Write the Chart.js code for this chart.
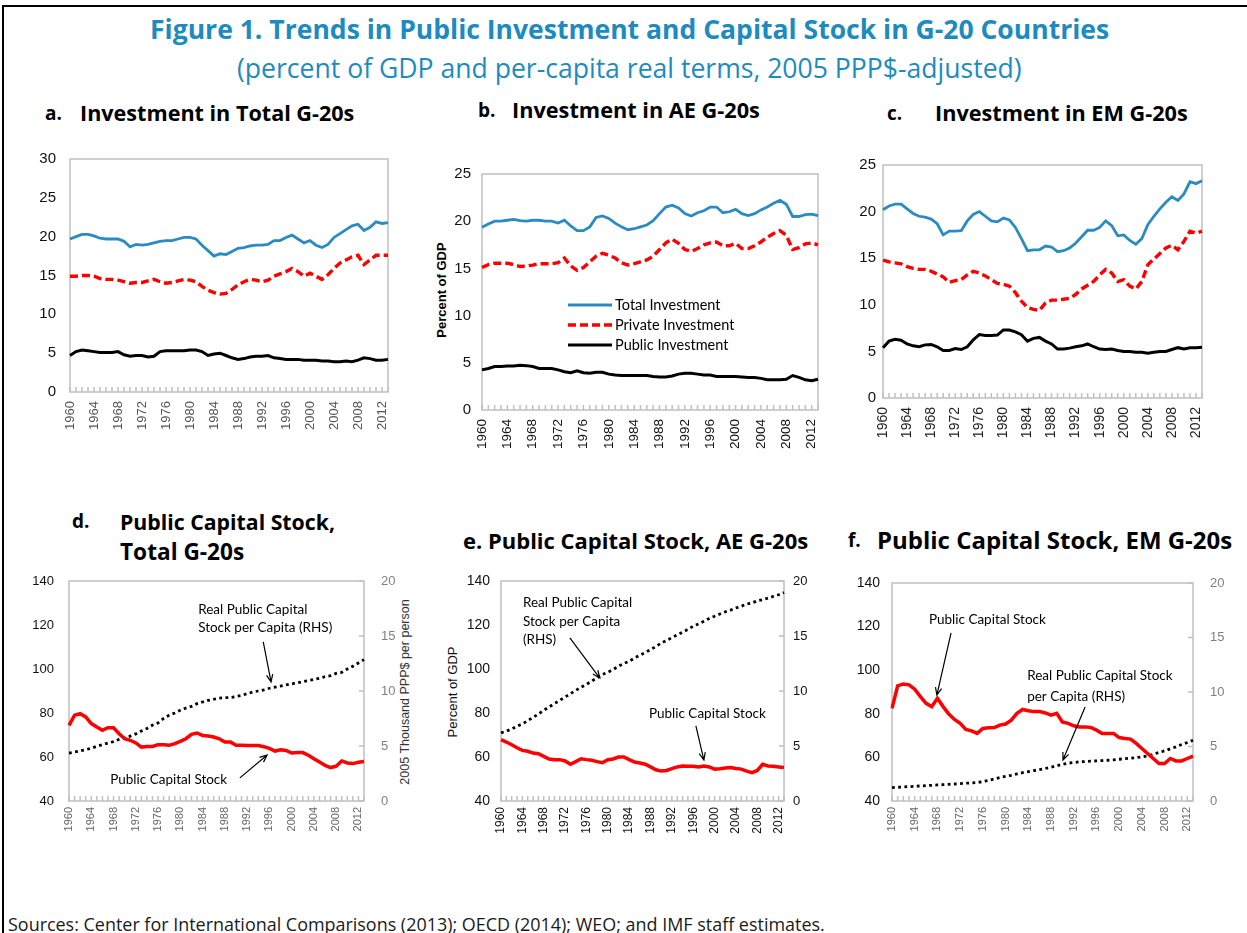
<!DOCTYPE html>
<html>
<head>
<meta charset="utf-8">
<title>Figure 1. Public Investment and Capital Stock in G-20 Countries</title>
<script src="https://cdn.jsdelivr.net/npm/chart.js@4.4.1/dist/chart.umd.min.js"></script>
<style>
  body { margin: 0; background: #fff; }
  #page { position: relative; width: 1247px; height: 933px; overflow: hidden; background: #fff; }
  #frame { position: absolute; left: 2px; top: 5px; width: 1300px; height: 1000px; border-left: 2px solid #000; border-top: 2px solid #000; }
  .txt { position: absolute; white-space: nowrap; line-height: 1; }
  .axis-title { position: absolute; white-space: nowrap; line-height: 1; transform: translate(-50%, -50%) rotate(-90deg); }
  canvas { position: absolute; }
</style>
</head>
<body>
<div id="page"><div id="frame"></div></div>
<script>
// DATA
const years = ["1960","1961","1962","1963","1964","1965","1966","1967","1968","1969",
  "1970","1971","1972","1973","1974","1975","1976","1977","1978","1979",
  "1980","1981","1982","1983","1984","1985","1986","1987","1988","1989",
  "1990","1991","1992","1993","1994","1995","1996","1997","1998","1999",
  "2000","2001","2002","2003","2004","2005","2006","2007","2008","2009",
  "2010","2011","2012","2013"];

// a. total G-20 (percent of GDP)
const totalA = [19.7,20.0,20.3,20.3,20.1,19.8,19.7,19.7,19.7,19.4, 18.7,19.0,18.9,19.0,19.2,19.4,19.5,19.5,19.7,19.9,
  19.9,19.7,18.9,18.2,17.5,17.8,17.7,18.1,18.5,18.6, 18.8,18.9,18.9,19.0,19.5,19.5,19.9,20.2,19.7,19.2,
  19.5,18.9,18.6,19.0,19.9,20.4,20.9,21.4,21.6,20.8, 21.2,21.9,21.7,21.8];
const privateA = [14.9,14.9,15.0,15.0,14.9,14.6,14.5,14.5,14.4,14.2, 14.0,14.1,14.1,14.3,14.5,14.2,14.0,14.1,14.3,14.5,
  14.4,14.2,13.6,13.1,12.8,12.6,12.7,13.2,13.8,14.2, 14.5,14.4,14.2,14.4,14.9,15.2,15.5,15.9,15.5,14.9,
  15.3,14.9,14.5,15.1,15.9,16.6,17.0,17.4,17.6,16.4, 17.0,17.6,17.6,17.6];
const publicA = [4.7,5.2,5.4,5.3,5.2,5.1,5.1,5.1,5.2,4.8, 4.6,4.7,4.7,4.5,4.6,5.2,5.3,5.3,5.3,5.3,
  5.4,5.4,5.2,4.7,4.9,5.0,4.7,4.4,4.2,4.3, 4.5,4.6,4.6,4.7,4.4,4.3,4.2,4.2,4.2,4.1,
  4.1,4.1,4.0,4.0,3.9,3.9,4.0,3.9,4.1,4.4, 4.3,4.1,4.1,4.2];

// b. AE G-20
const totalB = [19.35,19.7,20.0,20.0,20.1,20.2,20.05,20.0,20.1,20.1, 20.0,20.0,19.8,20.1,19.5,19.0,19.0,19.4,20.4,20.55,
  20.3,19.8,19.4,19.1,19.2,19.4,19.6,20.05,20.8,21.5, 21.7,21.4,20.8,20.55,20.9,21.1,21.5,21.5,20.9,21.0,
  21.25,20.8,20.6,20.8,21.2,21.5,21.9,22.2,21.8,20.5, 20.5,20.7,20.75,20.6];
const privateB = [15.1,15.4,15.55,15.55,15.55,15.4,15.2,15.25,15.35,15.5, 15.5,15.5,15.6,16.1,15.25,14.8,15.1,15.7,16.3,16.6,
  16.4,16.1,15.6,15.35,15.5,15.7,15.9,16.3,17.0,17.7, 18.1,17.65,17.0,16.8,17.1,17.5,17.7,17.8,17.4,17.4,
  17.65,17.1,17.1,17.4,17.8,18.3,18.7,19.0,18.5,17.0, 17.2,17.6,17.7,17.5];
const publicB = [4.25,4.4,4.6,4.6,4.65,4.65,4.75,4.7,4.6,4.4, 4.4,4.4,4.25,4.05,3.95,4.15,3.95,3.9,4.0,4.0,
  3.8,3.7,3.65,3.65,3.65,3.65,3.65,3.55,3.5,3.5, 3.6,3.8,3.9,3.9,3.8,3.7,3.7,3.55,3.55,3.55,
  3.55,3.5,3.45,3.45,3.35,3.2,3.2,3.2,3.25,3.65, 3.45,3.2,3.1,3.25];

// c. EM G-20
const totalC = [20.2,20.6,20.8,20.8,20.3,19.8,19.5,19.4,19.2,18.7, 17.5,17.9,17.9,17.95,19.0,19.7,20.0,19.5,19.0,18.9,
  19.3,19.1,18.3,17.1,15.8,15.9,15.9,16.3,16.2,15.7, 15.8,16.1,16.6,17.3,18.0,18.0,18.3,19.0,18.5,17.4,
  17.5,16.9,16.5,17.1,18.6,19.5,20.3,21.0,21.6,21.2, 21.9,23.2,23.0,23.3];
const privateC = [14.8,14.6,14.5,14.4,14.1,13.9,13.8,13.8,13.6,13.3, 13.0,12.4,12.6,12.7,13.2,13.6,13.4,13.1,12.7,12.3,
  12.2,12.0,11.3,10.4,9.7,9.5,9.4,10.2,10.5,10.5, 10.6,10.7,11.1,11.7,12.1,12.5,13.2,13.8,13.4,12.5,
  12.7,12.0,11.7,12.5,14.3,14.9,15.5,16.1,16.4,15.9, 16.8,17.9,17.7,17.9];
const publicC = [5.4,6.1,6.3,6.2,5.8,5.6,5.5,5.7,5.75,5.5, 5.1,5.1,5.3,5.2,5.5,6.25,6.8,6.7,6.7,6.75,
  7.3,7.3,7.1,6.8,6.1,6.4,6.5,6.1,5.8,5.25, 5.25,5.35,5.5,5.6,5.8,5.5,5.25,5.2,5.25,5.1,
  5.0,5.0,4.9,4.9,4.8,4.9,5.0,5.0,5.2,5.4, 5.25,5.4,5.4,5.45];

// d-f. public capital stock (percent of GDP) and per capita (thousand 2005 PPP$, RHS)
const stockD = [74.4,79.0,79.7,78.2,75.2,73.6,72.1,73.3,73.3,70.6, 68.3,67.6,66.4,64.5,64.8,64.8,65.6,65.6,65.3,66.1,
  67.1,68.3,70.3,70.9,69.8,69.5,69.1,68.3,66.8,66.8, 65.3,65.3,65.2,65.2,65.2,64.7,63.9,62.7,63.3,63.0,
  61.8,62.0,62.0,60.8,59.2,57.7,56.2,55.2,55.8,58.2, 57.3,57.0,57.6,58.0];
const perCapD = [4.36,4.45,4.55,4.67,4.8,4.97,5.12,5.27,5.4,5.6, 5.75,5.9,6.1,6.36,6.6,6.9,7.1,7.5,7.8,8.0,
  8.25,8.45,8.6,8.85,9.0,9.15,9.25,9.35,9.4,9.4, 9.5,9.6,9.75,9.9,10.0,10.1,10.25,10.35,10.45,10.55,
  10.65,10.75,10.85,10.95,11.05,11.15,11.3,11.4,11.6,11.7, 12.0,12.25,12.55,12.85];
const stockE = [67.9,66.8,65.6,64.2,63.0,62.6,61.8,61.5,60.3,59.1, 58.8,58.8,58.2,56.7,57.9,59.2,58.8,58.5,57.9,57.4,
  58.8,59.1,60.0,60.0,58.8,57.7,57.3,56.7,55.5,54.2, 53.6,53.9,54.7,55.5,55.9,55.8,55.8,55.5,55.9,55.5,
  54.5,54.7,55.0,55.2,54.8,54.5,53.6,52.9,53.9,56.7, 55.9,55.8,55.5,55.2];
const perCapE = [6.2,6.35,6.55,6.8,7.0,7.3,7.6,7.9,8.25,8.55, 8.85,9.15,9.45,9.75,10.05,10.35,10.6,10.9,11.2,11.5,
  11.7,11.95,12.25,12.5,12.7,13.0,13.25,13.5,13.75,14.05, 14.35,14.6,14.85,15.1,15.35,15.6,15.9,16.1,16.35,16.6,
  16.8,17.0,17.2,17.35,17.55,17.7,17.9,18.0,18.2,18.3, 18.45,18.6,18.75,18.95];
const stockF = [82.5,92.8,93.7,93.3,91.3,87.9,84.8,83.3,87.1,83.3, 79.9,77.4,75.6,72.8,72.2,71.0,73.3,73.6,73.7,74.8,
  75.3,77.1,80.2,82.0,81.4,81.0,81.0,80.4,79.4,80.2, 76.3,75.6,74.5,74.0,74.0,73.7,72.5,71.0,71.0,71.0,
  69.1,68.7,68.4,66.4,64.1,61.8,59.5,57.2,57.2,59.5, 58.4,58.4,59.5,60.6];
const perCapF = [1.23,1.26,1.29,1.32,1.35,1.38,1.41,1.44,1.47,1.5, 1.53,1.56,1.6,1.63,1.66,1.7,1.78,1.9,2.02,2.15,
  2.27,2.36,2.48,2.6,2.7,2.79,2.88,2.98,3.1,3.22, 3.37,3.47,3.53,3.59,3.62,3.65,3.68,3.71,3.74,3.78,
  3.83,3.88,3.93,3.98,4.05,4.14,4.29,4.45,4.6,4.79, 4.97,5.18,5.37,5.58];

const BLUE = "#2a8bc3";
const RED = "#ff0000";
const page = document.querySelector("#page");

// TEXT (page headings, panel titles, source line)
function placeText(item) {
    const el = document.createElement("div");
    el.className = "txt";
    el.textContent = item.text;
    el.style.fontFamily = item.family || '"Open Sans"';
    el.style.fontWeight = item.weight || 400;
    el.style.fontSize = item.size + "px";
    el.style.color = item.color || "#000";
    page.appendChild(el);
    if (item.w) el.style.fontSize = (item.size * item.w / el.offsetWidth) + "px";
    el.style.left = item.x + "px";
    el.style.top = (item.cy - el.offsetHeight / 2) + "px";
}

const texts = [
    { text: "Figure 1. Trends in Public Investment and Capital Stock in G-20 Countries", x: 150, cy: 29, w: 960, size: 25, weight: 700, color: "#1c8bbf" },
    { text: "(percent of GDP and per-capita real terms, 2005 PPP$-adjusted)", x: 237, cy: 68, w: 785, size: 24, color: "#1c8bbf" },
    { text: "a.", x: 45, cy: 113, size: 19, weight: 700 },
    { text: "Investment in Total G-20s", x: 80, cy: 113, w: 275, size: 19, weight: 700 },
    { text: "b.", x: 478, cy: 110, size: 19, weight: 700 },
    { text: "Investment in AE G-20s", x: 512, cy: 110, w: 248, size: 19, weight: 700 },
    { text: "c.", x: 887, cy: 113, size: 19, weight: 700 },
    { text: "Investment in EM G-20s", x: 935, cy: 113, w: 253, size: 19, weight: 700 },
    { text: "d.", x: 72, cy: 521, size: 19, weight: 700 },
    { text: "Public Capital Stock,", x: 120, cy: 521, w: 215, size: 19, weight: 700 },
    { text: "Total G-20s", x: 120, cy: 552, w: 124, size: 19, weight: 700 },
    { text: "e. Public Capital Stock, AE G-20s", x: 463, cy: 540, w: 345, size: 19, weight: 700 },
    { text: "f.", x: 848, cy: 540, size: 19, weight: 700 },
    { text: "Public Capital Stock, EM G-20s", x: 877, cy: 540, w: 356, size: 19, weight: 700 },
    { text: "Sources: Center for International Comparisons (2013); OECD (2014); WEO; and IMF staff estimates.", x: 8, cy: 925, w: 818, size: 16, color: "#1a1a1a" }
];
texts.forEach(placeText);

// rotated axis titles
function axisTitle(text, cx, cy, font, color) {
    const el = document.createElement("div");
    el.className = "axis-title";
    el.textContent = text;
    el.style.font = font;
    el.style.color = color;
    el.style.left = cx + "px";
    el.style.top = cy + "px";
    page.appendChild(el);
}
axisTitle("Percent of GDP", 441, 290, "700 13px 'Liberation Sans'", "#000");
axisTitle("Percent of GDP", 452, 692, "400 13px 'Liberation Sans'", "#111");
axisTitle("2005 Thousand PPP$ per person", 405, 692, "400 12.5px 'Liberation Sans'", "#333");

// PLUGINS
// plot frame and small inward tick marks
const framePlugin = {
    id: "frame",
    beforeDatasetsDraw(chart) {
        const a = chart.chartArea;
        const ctx = chart.ctx;
        ctx.save();
        ctx.strokeStyle = "#c0c0c0";
        ctx.lineWidth = 1.5;
        ctx.strokeRect(a.left, a.top, a.right - a.left, a.bottom - a.top);
        ctx.beginPath();
        const x = chart.scales.x;
        for (let i = 0; i < years.length; i++) {
            const px = x.getPixelForValue(i);
            ctx.moveTo(px, a.bottom);
            ctx.lineTo(px, a.bottom - 5);
        }
        const y2 = chart.scales.y2;
        if (y2) {
            y2.ticks.forEach(t => {
                const py = y2.getPixelForValue(t.value);
                ctx.moveTo(a.right, py);
                ctx.lineTo(a.right - 5, py);
            });
        }
        ctx.stroke();
        ctx.restore();
    }
};

// legend drawn inside the plot (panel b)
const innerLegend = {
    id: "innerLegend",
    afterDraw(chart, args, opts) {
        if (!opts || !opts.show) return;
        const a = chart.chartArea;
        const ctx = chart.ctx;
        ctx.save();
        ctx.font = "14.5px Lato";
        ctx.textBaseline = "middle";
        ctx.fillStyle = "#000";
        chart.data.datasets.forEach((ds, i) => {
            const y = a.top + opts.top + i * opts.gap;
            const x = a.left + opts.left;
            ctx.strokeStyle = ds.borderColor;
            ctx.lineWidth = ds.borderWidth;
            ctx.setLineDash(ds.borderDash || []);
            ctx.beginPath();
            ctx.moveTo(x, y);
            ctx.lineTo(x + 44, y);
            ctx.stroke();
            ctx.fillText(ds.label, x + 47, y);
        });
        ctx.restore();
    }
};

// text labels and arrows placed in data coordinates
const notesPlugin = {
    id: "notes",
    afterDraw(chart, args, opts) {
        if (!opts || !opts.texts) return;
        const x = chart.scales.x;
        const y = chart.scales.y;
        const ctx = chart.ctx;
        ctx.save();
        ctx.font = (opts.size || 13.5) + "px Lato";
        ctx.fillStyle = "#000";
        ctx.textBaseline = "middle";
        opts.texts.forEach(t => {
            ctx.fillText(t.label, x.getPixelForValue(t.x), y.getPixelForValue(t.y));
        });
        ctx.strokeStyle = "#000";
        ctx.lineWidth = 1.2;
        opts.arrows.forEach(ar => {
            const x1 = x.getPixelForValue(ar.x1), y1 = y.getPixelForValue(ar.y1);
            const x2 = x.getPixelForValue(ar.x2), y2 = y.getPixelForValue(ar.y2);
            const ang = Math.atan2(y2 - y1, x2 - x1);
            ctx.beginPath();
            ctx.moveTo(x1, y1);
            ctx.lineTo(x2, y2);
            ctx.moveTo(x2 - 8 * Math.cos(ang - 0.4), y2 - 8 * Math.sin(ang - 0.4));
            ctx.lineTo(x2, y2);
            ctx.lineTo(x2 - 8 * Math.cos(ang + 0.4), y2 - 8 * Math.sin(ang + 0.4));
            ctx.stroke();
        });
        ctx.restore();
    }
};

// DATASET STYLES
function totalSet(data) {
    return { label: "Total Investment", data: data, borderColor: BLUE, borderWidth: 2.8, pointRadius: 0, tension: 0 };
}
function privateSet(data) {
    return { label: "Private Investment", data: data, borderColor: RED, borderWidth: 3.4, borderDash: [8, 4], pointRadius: 0, tension: 0 };
}
function publicSet(data) {
    return { label: "Public Investment", data: data, borderColor: "#000", borderWidth: 3, pointRadius: 0, tension: 0 };
}
function stockSet(data) {
    return { label: "Public Capital Stock", data: data, borderColor: RED, borderWidth: 3.5, pointRadius: 0, tension: 0, yAxisID: "y" };
}
function perCapSet(data) {
    return { label: "Real Public Capital Stock per Capita (RHS)", data: data, borderColor: "#000", borderWidth: 2.8, borderDash: [2.8, 3.4], pointRadius: 0, tension: 0, yAxisID: "y2" };
}

// PANEL FACTORY
function addPanel(p) {
    const [l, t, r, b] = p.plot;
    // top room must cover the tick label half-height plus tick padding, else Chart.js shrinks the plot
    const T = Math.ceil(Math.max(p.ySize * 0.6 + p.yPad, p.y2 ? 13 * 0.6 + p.y2Pad : 0, 16)) + 2;
    const B = 66;
    const canvas = document.createElement("canvas");
    canvas.width = p.L + (r - l) + p.R;
    canvas.height = T + (b - t) + B;
    canvas.style.left = (l - p.L) + "px";
    canvas.style.top = (t - T) + "px";
    page.appendChild(canvas);

    const scales = {
        x: {
            grid: { display: false, drawTicks: false },
            border: { display: false },
            ticks: {
                autoSkip: false, minRotation: 90, maxRotation: 90, padding: p.xPad,
                color: p.xColor, font: { family: "Liberation Sans", size: p.xSize },
                callback: (v, i) => (i % 4 === 0 ? years[i] : "")
            },
            afterFit: s => { s.height = B; }
        },
        y: {
            position: "left", min: p.yRange[0], max: p.yRange[1],
            grid: { display: false, drawTicks: false },
            border: { display: false },
            ticks: { stepSize: p.yRange[2], padding: p.yPad, color: "#111", font: { family: "Liberation Sans", size: p.ySize } },
            afterFit: s => { s.width = p.L; }
        }
    };
    if (p.y2) {
        scales.y2 = {
            position: "right", min: 0, max: 20,
            grid: { display: false, drawTicks: false },
            border: { display: false },
            ticks: { stepSize: 5, padding: p.y2Pad, color: p.y2Color, font: { family: "Liberation Sans", size: 13 } },
            afterFit: s => { s.width = p.R; }
        };
    }

    new Chart(canvas, {
        type: "line",
        data: { labels: years, datasets: p.datasets },
        options: {
            responsive: false,
            animation: false,
            events: [],
            layout: { padding: { top: T, right: p.y2 ? 0 : p.R, left: 0, bottom: 0 } },
            scales: scales,
            plugins: {
                legend: { display: false },
                tooltip: { enabled: false },
                innerLegend: p.legend || {},
                notes: p.notes || {}
            }
        },
        plugins: [framePlugin, innerLegend, notesPlugin]
    });
}

// PANELS
addPanel({
    plot: [70, 159, 388, 392], L: 50, R: 28, yRange: [0, 30, 5], yPad: 14, ySize: 15,
    xPad: 9, xSize: 13, xColor: "#555",
    datasets: [totalSet(totalA), privateSet(privateA), publicSet(publicA)]
});
addPanel({
    plot: [482, 174, 818, 410], L: 57, R: 28, yRange: [0, 25, 5], yPad: 11, ySize: 15,
    xPad: 9, xSize: 13.5, xColor: "#111",
    datasets: [totalSet(totalB), privateSet(privateB), publicSet(publicB)],
    legend: { show: true, left: 86, top: 131, gap: 20 }
});
addPanel({
    plot: [883, 165, 1202, 398], L: 50, R: 28, yRange: [0, 25, 5], yPad: 7, ySize: 15,
    xPad: 9, xSize: 14, xColor: "#222",
    datasets: [totalSet(totalC), privateSet(privateC), publicSet(publicC)]
});
addPanel({
    plot: [69, 581, 364, 801], L: 50, R: 50, yRange: [40, 140, 20], yPad: 15, ySize: 13,
    y2: true, y2Pad: 17, y2Color: "#808080",
    xPad: 6, xSize: 11, xColor: "#666",
    datasets: [stockSet(stockD), perCapSet(perCapD)],
    notes: {
        texts: [
            { label: "Real Public Capital", x: 23.2, y: 126.8 },
            { label: "Stock per Capita (RHS)", x: 23.2, y: 118.6 },
            { label: "Public Capital Stock", x: 7.4, y: 49.5 }
        ],
        arrows: [
            { x1: 34.9, y1: 112.3, x2: 36.3, y2: 94.1 },
            { x1: 30.7, y1: 50.5, x2: 35.6, y2: 60.9 }
        ]
    }
});
addPanel({
    plot: [501, 581, 784, 801], L: 61, R: 40, yRange: [40, 140, 20], yPad: 11, ySize: 14,
    y2: true, y2Pad: 9, y2Color: "#111",
    xPad: 6, xSize: 12, xColor: "#111",
    datasets: [stockSet(stockE), perCapSet(perCapE)],
    notes: {
        texts: [
            { label: "Real Public Capital", x: 4.1, y: 130 },
            { label: "Stock per Capita", x: 4.1, y: 121.4 },
            { label: "(RHS)", x: 4.1, y: 113.2 },
            { label: "Public Capital Stock", x: 27.7, y: 79.5 }
        ],
        arrows: [
            { x1: 12.9, y1: 114.1, x2: 18.5, y2: 95.9 },
            { x1: 36.5, y1: 74.1, x2: 38.0, y2: 58.6 }
        ]
    }
});
addPanel({
    plot: [892, 583, 1193, 801], L: 47, R: 40, yRange: [40, 140, 20], yPad: 12, ySize: 14,
    y2: true, y2Pad: 17, y2Color: "#808080",
    xPad: 6, xSize: 11, xColor: "#666",
    datasets: [stockSet(stockF), perCapSet(perCapF)],
    notes: {
        texts: [
            { label: "Public Capital Stock", x: 6.5, y: 123.0 },
            { label: "Real Public Capital Stock", x: 23.8, y: 97.3 },
            { label: "per Capita (RHS)", x: 23.8, y: 87.7 }
        ],
        arrows: [
            { x1: 10.4, y1: 117.1, x2: 7.9, y2: 88.6 },
            { x1: 34.0, y1: 83.1, x2: 30.1, y2: 58.8 }
        ]
    }
});
</script>
</body>
</html>
